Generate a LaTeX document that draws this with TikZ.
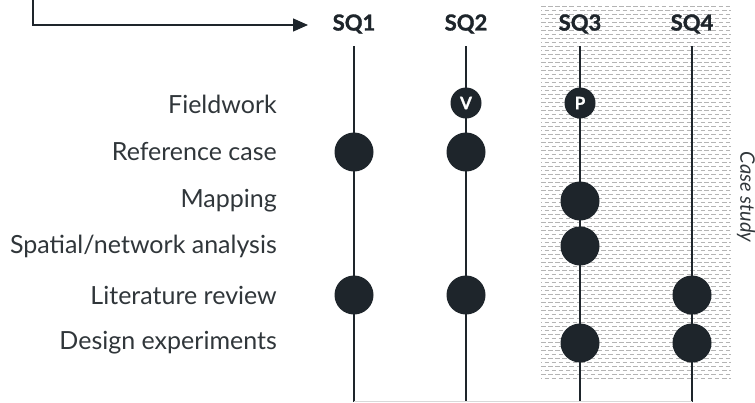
\documentclass[tikz,border=0pt]{standalone}
\usepackage{fontspec}
\setmainfont{Lato}
\newfontfamily\heavyfont{Lato}[BoldFeatures={FakeBold=1.3}]
\usetikzlibrary{arrows.meta,calc}
\definecolor{ink}{HTML}{1E252B}
\definecolor{txt}{HTML}{30363A}
\definecolor{hatch}{HTML}{B4B4B4}
\tikzset{
  rowlabel/.style={anchor=east, text=txt, font=\fontsize{25}{27}\selectfont, inner sep=0pt},
  sqhead/.style={text=ink, font=\fontsize{22}{24}\selectfont\heavyfont\bfseries, inner sep=0pt},
  axis/.style={draw=ink, line width=1.3pt},
  bigdot/.style={circle, fill=ink, minimum size=39pt, inner sep=0pt},
  smalldot/.style={circle, fill=ink, minimum size=31pt, inner sep=0pt, text=white, font=\fontsize{17}{17}\selectfont\heavyfont\bfseries},
  flow/.style={draw=ink, line width=1.3pt, -{Triangle[length=15pt,width=13pt]}},
  hatchline/.style={draw=hatch, line width=0.8pt, dash pattern=on 4.5pt off 2.6pt},
}
\begin{document}
\begin{tikzpicture}[x=1pt, y=-1pt]
\useasboundingbox (0,0) rectangle (755,402);

% case-study band: horizontal dashed hatching
\begin{scope}
  \clip (541,5) rectangle (731,380);
  \foreach \k in {0,...,93} {
    \pgfmathsetmacro{\yy}{6+4*\k}
    \pgfmathsetmacro{\ph}{mod(\k,2)*3.6}
    \draw[hatchline, dash phase=\ph pt] (541,\yy) -- (731,\yy);
  }
\end{scope}
\node[rotate=-90, text=txt, font=\fontsize{20}{22}\selectfont\itshape, inner sep=0pt] (case) at (746,197) {Case study};

% incoming flow arrow
\coordinate (flowstart) at (33,0);
\coordinate (flowend) at (308,25);
\draw[flow] (flowstart) |- (flowend);

% sub-question headers
\node[sqhead] (sq1) at (354,24) {SQ1};
\node[sqhead] (sq2) at (466,24) {SQ2};
\node[sqhead] (sq3) at (580,24) {SQ3};
\node[sqhead] (sq4) at (692,24) {SQ4};

% vertical axes
\foreach \i/\x in {1/354,2/466,3/580,4/692} {
  \coordinate (top\i) at (\x,46);
  \coordinate (bot\i) at (\x,402);
  \draw[axis] (top\i) -- (bot\i);
}
\draw[draw=gray!30, line width=0.8pt] ($(bot1)+(0,-0.6)$) -- ($(bot4)+(0,-0.6)$);

% method rows
\node[rowlabel] (r1) at (277,104) {Fieldwork};
\node[rowlabel] (r2) at (277,152) {Reference case};
\node[rowlabel] (r3) at (277,201) {Mapping};
\node[rowlabel] (r4) at (277,246) {Spatial/network analysis};
\node[rowlabel] (r5) at (277,295) {Literature review};
\node[rowlabel] (r6) at (277,343) {Design experiments};

% markers
\node[smalldot] (v2) at (466,103) {V};
\node[smalldot] (p3) at (580,103) {P};
\node[bigdot] (d21) at (354,152) {};
\node[bigdot] (d22) at (466,152) {};
\node[bigdot] (d33) at (580,201) {};
\node[bigdot] (d43) at (580,246) {};
\node[bigdot] (d51) at (354,295) {};
\node[bigdot] (d52) at (466,295) {};
\node[bigdot] (d54) at (692,295) {};
\node[bigdot] (d63) at (580,343) {};
\node[bigdot] (d64) at (692,343) {};
\end{tikzpicture}
\end{document}
